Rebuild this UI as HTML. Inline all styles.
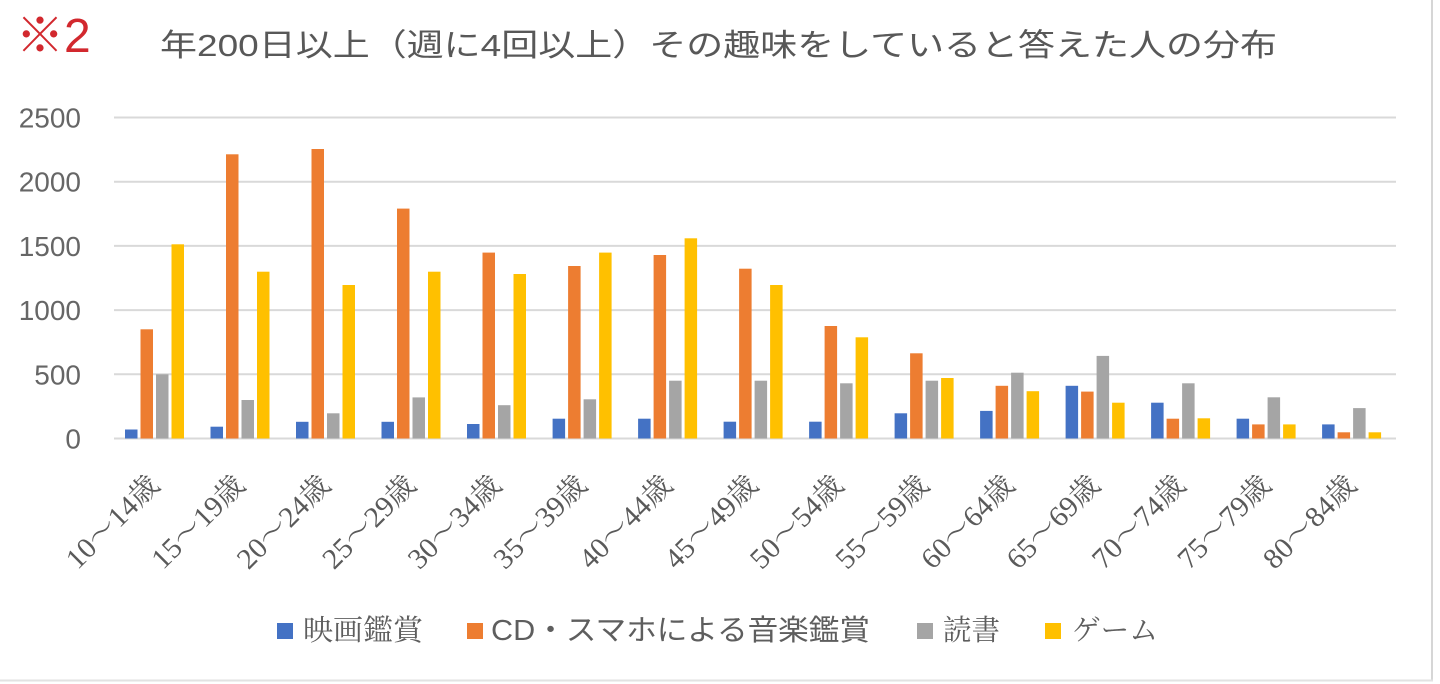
<!DOCTYPE html>
<html><head><meta charset="utf-8"><style>
html,body{margin:0;padding:0;background:#fff;}
svg{display:block;}
.xl{font-family:"Liberation Serif","Noto Serif CJK SC",serif;font-size:29px;fill:#5a5a5a;}
.yl{font-family:"Liberation Sans",sans-serif;font-size:28px;fill:#666;}
</style></head><body>
<svg width="1440" height="684" viewBox="0 0 1440 684" xmlns="http://www.w3.org/2000/svg">
<rect width="1440" height="684" fill="#fff"/>
<line x1="1432" y1="0" x2="1432" y2="681" stroke="#d6d6d6" stroke-width="2"/>
<line x1="0" y1="680.5" x2="1433" y2="680.5" stroke="#e2e2e2" stroke-width="2"/>
<text x="16" y="52" font-size="48" fill="#d2282e" style="font-family:'Liberation Sans','Noto Sans CJK JP',sans-serif">※2</text>
<text x="160" y="56" textLength="1117" lengthAdjust="spacingAndGlyphs" style="font-family:'Liberation Sans','Noto Sans CJK JP',sans-serif;font-size:31px;fill:#585858">年200日以上（週に4回以上）その趣味をしていると答えた人の分布</text>
<g stroke="#d9d9d9" stroke-width="2">
<line x1="114" y1="117.5" x2="1396" y2="117.5"/>
<line x1="114" y1="181.7" x2="1396" y2="181.7"/>
<line x1="114" y1="245.9" x2="1396" y2="245.9"/>
<line x1="114" y1="310.1" x2="1396" y2="310.1"/>
<line x1="114" y1="374.3" x2="1396" y2="374.3"/>
<line x1="114" y1="438.5" x2="1396" y2="438.5"/>
</g>
<g class="yl" text-anchor="end">
<text x="81" y="127.5">2500</text>
<text x="81" y="191.7">2000</text>
<text x="81" y="255.9">1500</text>
<text x="81" y="320.1">1000</text>
<text x="81" y="384.3">500</text>
<text x="81" y="448.5">0</text>
</g>
<g id="bars">
<g transform="translate(154.5,0)"><rect x="-29.5" y="429.5" width="12.5" height="9" fill="#4472C4"/><rect x="-14" y="329.3" width="12.5" height="109.2" fill="#ED7D31"/><rect x="1.5" y="374.3" width="12.5" height="64.2" fill="#A5A5A5"/><rect x="17" y="244.3" width="12.5" height="194.2" fill="#FFC000"/></g>
<g transform="translate(240,0)"><rect x="-29.5" y="426.7" width="12.5" height="11.8" fill="#4472C4"/><rect x="-14" y="154.3" width="12.5" height="284.2" fill="#ED7D31"/><rect x="1.5" y="400" width="12.5" height="38.5" fill="#A5A5A5"/><rect x="17" y="271.7" width="12.5" height="166.8" fill="#FFC000"/></g>
<g transform="translate(325.5,0)"><rect x="-29.5" y="421.8" width="12.5" height="16.7" fill="#4472C4"/><rect x="-14" y="149" width="12.5" height="289.5" fill="#ED7D31"/><rect x="1.5" y="413.3" width="12.5" height="25.2" fill="#A5A5A5"/><rect x="17" y="285" width="12.5" height="153.5" fill="#FFC000"/></g>
<g transform="translate(411,0)"><rect x="-29.5" y="421.8" width="12.5" height="16.7" fill="#4472C4"/><rect x="-14" y="208.6" width="12.5" height="229.9" fill="#ED7D31"/><rect x="1.5" y="397.4" width="12.5" height="41.1" fill="#A5A5A5"/><rect x="17" y="271.7" width="12.5" height="166.8" fill="#FFC000"/></g>
<g transform="translate(496.5,0)"><rect x="-29.5" y="424" width="12.5" height="14.5" fill="#4472C4"/><rect x="-14" y="252.6" width="12.5" height="185.9" fill="#ED7D31"/><rect x="1.5" y="405.2" width="12.5" height="33.3" fill="#A5A5A5"/><rect x="17" y="274" width="12.5" height="164.5" fill="#FFC000"/></g>
<g transform="translate(582.1,0)"><rect x="-29.5" y="418.7" width="12.5" height="19.8" fill="#4472C4"/><rect x="-14" y="266" width="12.5" height="172.5" fill="#ED7D31"/><rect x="1.5" y="399.3" width="12.5" height="39.2" fill="#A5A5A5"/><rect x="17" y="252.6" width="12.5" height="185.9" fill="#FFC000"/></g>
<g transform="translate(667.6,0)"><rect x="-29.5" y="418.7" width="12.5" height="19.8" fill="#4472C4"/><rect x="-14" y="255" width="12.5" height="183.5" fill="#ED7D31"/><rect x="1.5" y="380.7" width="12.5" height="57.8" fill="#A5A5A5"/><rect x="17" y="238.3" width="12.5" height="200.2" fill="#FFC000"/></g>
<g transform="translate(753.1,0)"><rect x="-29.5" y="421.7" width="12.5" height="16.8" fill="#4472C4"/><rect x="-14" y="268.7" width="12.5" height="169.8" fill="#ED7D31"/><rect x="1.5" y="380.7" width="12.5" height="57.8" fill="#A5A5A5"/><rect x="17" y="285" width="12.5" height="153.5" fill="#FFC000"/></g>
<g transform="translate(838.6,0)"><rect x="-29.5" y="421.7" width="12.5" height="16.8" fill="#4472C4"/><rect x="-14" y="326" width="12.5" height="112.5" fill="#ED7D31"/><rect x="1.5" y="383.3" width="12.5" height="55.2" fill="#A5A5A5"/><rect x="17" y="337.3" width="12.5" height="101.2" fill="#FFC000"/></g>
<g transform="translate(924.1,0)"><rect x="-29.5" y="413.3" width="12.5" height="25.2" fill="#4472C4"/><rect x="-14" y="353.3" width="12.5" height="85.2" fill="#ED7D31"/><rect x="1.5" y="380.7" width="12.5" height="57.8" fill="#A5A5A5"/><rect x="17" y="378" width="12.5" height="60.5" fill="#FFC000"/></g>
<g transform="translate(1009.6,0)"><rect x="-29.5" y="410.9" width="12.5" height="27.6" fill="#4472C4"/><rect x="-14" y="385.8" width="12.5" height="52.7" fill="#ED7D31"/><rect x="1.5" y="372.7" width="12.5" height="65.8" fill="#A5A5A5"/><rect x="17" y="391.2" width="12.5" height="47.3" fill="#FFC000"/></g>
<g transform="translate(1095.1,0)"><rect x="-29.5" y="385.8" width="12.5" height="52.7" fill="#4472C4"/><rect x="-14" y="391.6" width="12.5" height="46.9" fill="#ED7D31"/><rect x="1.5" y="355.9" width="12.5" height="82.6" fill="#A5A5A5"/><rect x="17" y="402.7" width="12.5" height="35.8" fill="#FFC000"/></g>
<g transform="translate(1180.6,0)"><rect x="-29.5" y="402.7" width="12.5" height="35.8" fill="#4472C4"/><rect x="-14" y="418.7" width="12.5" height="19.8" fill="#ED7D31"/><rect x="1.5" y="383.3" width="12.5" height="55.2" fill="#A5A5A5"/><rect x="17" y="418.3" width="12.5" height="20.2" fill="#FFC000"/></g>
<g transform="translate(1266.1,0)"><rect x="-29.5" y="418.7" width="12.5" height="19.8" fill="#4472C4"/><rect x="-14" y="424.4" width="12.5" height="14.1" fill="#ED7D31"/><rect x="1.5" y="397.3" width="12.5" height="41.2" fill="#A5A5A5"/><rect x="17" y="424.4" width="12.5" height="14.1" fill="#FFC000"/></g>
<g transform="translate(1351.6,0)"><rect x="-29.5" y="424.4" width="12.5" height="14.1" fill="#4472C4"/><rect x="-14" y="432.3" width="12.5" height="6.2" fill="#ED7D31"/><rect x="1.5" y="408.1" width="12.5" height="30.4" fill="#A5A5A5"/><rect x="17" y="432.3" width="12.5" height="6.2" fill="#FFC000"/></g>
</g>
<g class="xl" text-anchor="end">
<text transform="translate(161,487) rotate(-45)" textLength="118" lengthAdjust="spacingAndGlyphs">10～14歳</text>
<text transform="translate(246.5,487) rotate(-45)" textLength="118" lengthAdjust="spacingAndGlyphs">15～19歳</text>
<text transform="translate(332,487) rotate(-45)" textLength="118" lengthAdjust="spacingAndGlyphs">20～24歳</text>
<text transform="translate(417.5,487) rotate(-45)" textLength="118" lengthAdjust="spacingAndGlyphs">25～29歳</text>
<text transform="translate(503,487) rotate(-45)" textLength="118" lengthAdjust="spacingAndGlyphs">30～34歳</text>
<text transform="translate(588.6,487) rotate(-45)" textLength="118" lengthAdjust="spacingAndGlyphs">35～39歳</text>
<text transform="translate(674.1,487) rotate(-45)" textLength="118" lengthAdjust="spacingAndGlyphs">40～44歳</text>
<text transform="translate(759.6,487) rotate(-45)" textLength="118" lengthAdjust="spacingAndGlyphs">45～49歳</text>
<text transform="translate(845.1,487) rotate(-45)" textLength="118" lengthAdjust="spacingAndGlyphs">50～54歳</text>
<text transform="translate(930.6,487) rotate(-45)" textLength="118" lengthAdjust="spacingAndGlyphs">55～59歳</text>
<text transform="translate(1016.1,487) rotate(-45)" textLength="118" lengthAdjust="spacingAndGlyphs">60～64歳</text>
<text transform="translate(1101.6,487) rotate(-45)" textLength="118" lengthAdjust="spacingAndGlyphs">65～69歳</text>
<text transform="translate(1187.1,487) rotate(-45)" textLength="118" lengthAdjust="spacingAndGlyphs">70～74歳</text>
<text transform="translate(1272.6,487) rotate(-45)" textLength="118" lengthAdjust="spacingAndGlyphs">75～79歳</text>
<text transform="translate(1358.1,487) rotate(-45)" textLength="118" lengthAdjust="spacingAndGlyphs">80～84歳</text>
</g>
<rect x="277" y="623" width="16" height="16" fill="#4472C4"/>
<text x="303" y="640" textLength="120" lengthAdjust="spacingAndGlyphs" style="font-family:'Liberation Serif','Noto Serif CJK SC',serif;font-size:29px;fill:#5e5e5e">映画鑑賞</text>
<rect x="467" y="623" width="16" height="16" fill="#ED7D31"/>
<text x="491" y="640" textLength="379" lengthAdjust="spacingAndGlyphs" style="font-family:'Liberation Sans','Noto Sans CJK JP',sans-serif;font-size:29px;fill:#5e5e5e">CD・スマホによる音楽鑑賞</text>
<rect x="917" y="623" width="16" height="16" fill="#A5A5A5"/>
<text x="943" y="640" textLength="57" lengthAdjust="spacingAndGlyphs" style="font-family:'Liberation Serif','Noto Serif CJK SC',serif;font-size:29px;fill:#5e5e5e">読書</text>
<rect x="1045" y="623" width="16" height="16" fill="#FFC000"/>
<text x="1072" y="640" textLength="86" lengthAdjust="spacingAndGlyphs" style="font-family:'Liberation Serif','Noto Serif CJK SC',serif;font-size:29px;fill:#5e5e5e">ゲーム</text>
</svg>
</body></html>
